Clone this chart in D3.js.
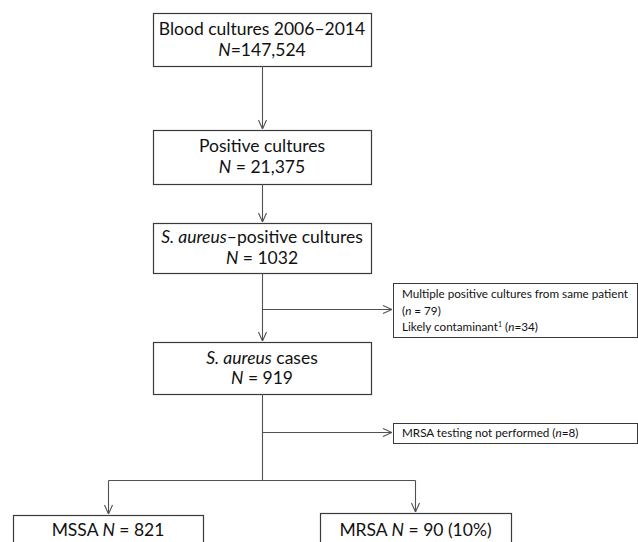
<!DOCTYPE html>
<html><head><meta charset="utf-8">
<script src="https://cdn.jsdelivr.net/npm/d3@7"></script>
<style>body{margin:0;background:#fff}svg{display:block}</style></head>
<body><svg id="c" width="638" height="542"></svg>
<script>
// ---- data ----
const stageTitles = [
  [{t:"Blood cultures 2006–2014"}],
  [{t:"Positive cultures"}],
  [{t:"S. aureus",i:true},{t:"–positive cultures"}],
  [{t:"S. aureus",i:true},{t:" cases"}]
];
const stageSep = ["=", " = ", " = ", " = "];
const stageCounts = ["147,524", "21,375", "1032", "919"];
const exclusionLines = [
  [
    [{t:"Multiple positive cultures from same patient"}],
    [{t:"("},{t:"n",i:true},{t:" = 79)"}],
    [{t:"Likely contaminant"},{t:"1",sup:true},{t:" ("},{t:"n",i:true},{t:"=34)"}]
  ],
  [
    [{t:"MRSA testing not performed ("},{t:"n",i:true},{t:"=8)"}]
  ]
];
const outcomeNames = ["MSSA", "MRSA"];
const outcomeCounts = ["821", "90 (10%)"];

// ---- layout ----
const svg = d3.select("#c");
const FONT = "Lato, 'Open Sans', sans-serif";
const FS = 17.5;
const stroke = "#3a3a3a", lineC = "#505050";

const defs = svg.append("defs");
defs.append("marker").attr("id","arr").attr("viewBox","0 0 10 10")
  .attr("refX",10).attr("refY",5).attr("markerWidth",10).attr("markerHeight",10)
  .attr("markerUnits","userSpaceOnUse").attr("orient","auto")
  .append("path").attr("d","M1,1 L10,5 L1,9").attr("fill","none").attr("stroke",lineC).attr("stroke-width",1.1);

const cx = 262;
const mainBoxes = [
  {x0:153, x1:371, y0:13, y1:66, l1:35, l2:56},
  {x0:153, x1:371, y0:130, y1:184, l1:152, l2:173},
  {x0:153, x1:371, y0:223, y1:273, l1:243, l2:264},
  {x0:153, x1:371, y0:342, y1:394, l1:364, l2:384}
];

function addRuns(textSel, runs) {
  runs.forEach(r => {
    const ts = textSel.append("tspan").text(r.t);
    if (r.i) ts.attr("font-style","italic");
  });
}

mainBoxes.forEach((b, k) => {
  svg.append("rect").attr("x", b.x0+0.5).attr("y", b.y0+0.5)
    .attr("width", b.x1-b.x0).attr("height", b.y1-b.y0)
    .attr("fill","#fff").attr("stroke",stroke).attr("stroke-width",1.2);
  const t1 = svg.append("text").attr("x", cx).attr("y", b.l1)
    .attr("text-anchor","middle").attr("font-family",FONT).attr("font-size",FS).attr("fill","#111");
  addRuns(t1, stageTitles[k]);
  const t2 = svg.append("text").attr("x", cx).attr("y", b.l2)
    .attr("text-anchor","middle").attr("font-family",FONT).attr("font-size",FS).attr("fill","#111");
  addRuns(t2, [{t:"N",i:true},{t:stageSep[k]},{t:stageCounts[k]}]);
});

// connectors
function line(pts, arrow) {
  const p = svg.append("path").attr("d", d3.line()(pts)).attr("fill","none")
    .attr("stroke",lineC).attr("stroke-width",1.1);
  if (arrow) p.attr("marker-end","url(#arr)");
}
line([[cx+0.5,66],[cx+0.5,129]], true);
line([[cx+0.5,184],[cx+0.5,222]], true);
line([[cx+0.5,273],[cx+0.5,341]], true);
line([[cx+0.5,309.5],[392,309.5]], true);
line([[cx+0.5,394],[cx+0.5,480.5]], false);
line([[cx+0.5,432.5],[392,432.5]], true);
line([[108.5,480.5],[415.5,480.5]], false);
line([[108.5,480.5],[108.5,514]], true);
line([[415.5,480.5],[415.5,512]], true);

// exclusion boxes
const exBoxes = [
  {x0:393, x1:637, y0:283, y1:337, base:[298,315,331]},
  {x0:393, x1:637, y0:423, y1:443, base:[437]}
];
exBoxes.forEach((b, k) => {
  svg.append("rect").attr("x", b.x0+0.5).attr("y", b.y0+0.5)
    .attr("width", b.x1-b.x0).attr("height", b.y1-b.y0)
    .attr("fill","#fff").attr("stroke",stroke).attr("stroke-width",1);
  exclusionLines[k].forEach((runs, j) => {
    const t = svg.append("text").attr("x", 402).attr("y", b.base[j])
      .attr("font-family",FONT).attr("font-size",11.7).attr("fill","#111");
    runs.forEach((r, q) => {
      const ts = t.append("tspan").text(r.t);
      if (r.i) ts.attr("font-style","italic");
      if (r.sup) ts.attr("font-size","0.6em").attr("dy","-0.5em");
      if (q > 0 && runs[q-1].sup) ts.attr("dy","0.3em");
    });
  });
});

// outcome boxes
const outBoxes = [
  {x0:13, x1:203, y0:515, y1:570, cx:108, base:536},
  {x0:320, x1:511, y0:513, y1:570, cx:415.5, base:536}
];
outBoxes.forEach((b, k) => {
  svg.append("rect").attr("x", b.x0+0.5).attr("y", b.y0+0.5)
    .attr("width", b.x1-b.x0).attr("height", b.y1-b.y0)
    .attr("fill","#fff").attr("stroke",stroke).attr("stroke-width",1.2);
  const t = svg.append("text").attr("x", b.cx).attr("y", b.base)
    .attr("text-anchor","middle").attr("font-family",FONT).attr("font-size",FS).attr("fill","#111");
  addRuns(t, [{t:outcomeNames[k]+" "},{t:"N",i:true},{t:" = "+outcomeCounts[k]}]);
});
</script></body></html>
